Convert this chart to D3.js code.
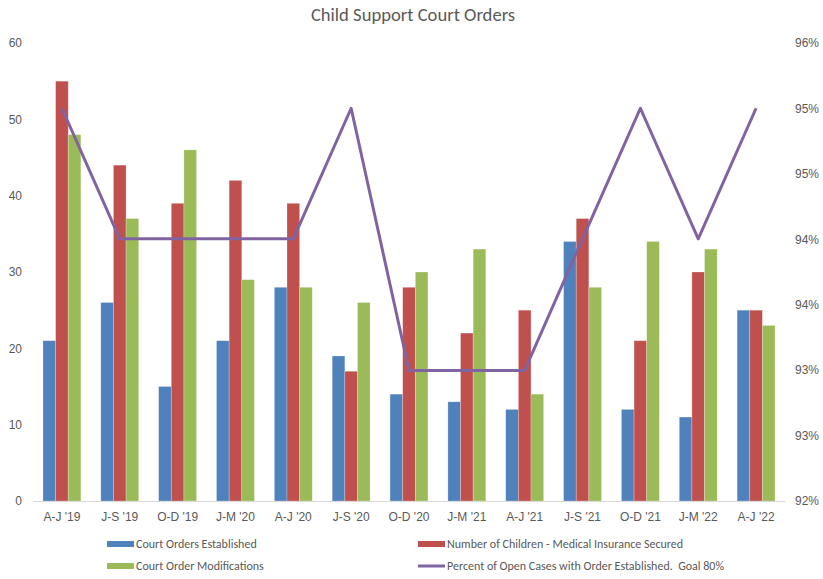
<!DOCTYPE html>
<html><head><meta charset="utf-8">
<script src="https://cdn.jsdelivr.net/npm/d3@7"></script>
<style>body{margin:0;background:#fff;} svg{display:block;font-family:Calibri,Carlito,"Liberation Sans","Open Sans",sans-serif;}</style>
</head><body>
<script>
const categories = ["A-J '19","J-S '19","O-D '19","J-M '20","A-J '20","J-S '20","O-D '20","J-M '21","A-J '21","J-S '21","O-D '21","J-M '22","A-J '22"];
const ordersEstablished = [21,26,15,21,28,19,14,13,12,34,12,11,25];
const medicalInsurance = [55,44,39,42,39,17,28,22,25,37,21,30,25];
const modifications = [48,37,46,29,28,26,30,33,14,28,34,33,23];
const percentOpen = [0.9543,0.9429,0.9429,0.9429,0.9429,0.9543,0.9314,0.9314,0.9314,0.9429,0.9543,0.9429,0.9543];
const leftTicks = [0,10,20,30,40,50,60];
const rightTicks = [0.92,0.92+0.04/7,0.92+0.08/7,0.92+0.12/7,0.92+0.16/7,0.92+0.20/7,0.92+0.24/7,0.96];
const seriesNames = ["Court Orders Established","Number of Children - Medical Insurance Secured","Court Order Modifications","Percent of Open Cases with Order Established.  Goal 80%"];
const colors = ["#4F81BD","#C0504D","#9BBB59","#8064A2"];

const W=823,H=579;
const svg=d3.select("body").append("svg").attr("width",W).attr("height",H);
const x0=33,x1=785,yTop=43,yBot=501;
const x=d3.scaleBand().domain(categories).range([x0,x1]).paddingInner(0.3448).paddingOuter(0.1724);
const xs=d3.scaleBand().domain(categories).range([x0,x1]);
const sub=d3.scaleBand().domain([0,1,2]).range([0,x.bandwidth()]);
const yL=d3.scaleLinear().domain([0,60]).range([yBot,yTop]);
const yR=d3.scaleLinear().domain([0.92,0.96]).range([yBot,yTop]);

svg.append("text").attr("x",413).attr("y",21).attr("text-anchor","middle").attr("fill","#595959").attr("font-size","18.6px").text("Child Support Court Orders");

const series=[ordersEstablished,medicalInsurance,modifications];
series.forEach((vals,si)=>{
  svg.append("g").selectAll("rect").data(vals).join("rect")
    .attr("x",(d,i)=>x(categories[i])+sub(si))
    .attr("y",d=>yL(d))
    .attr("width",sub.bandwidth())
    .attr("height",d=>yBot-yL(d))
    .attr("fill",colors[si])
    .attr("stroke","rgba(255,255,255,0.35)").attr("stroke-width",0.7);
});

// baseline
svg.append("line").attr("x1",x0).attr("x2",x1).attr("y1",yBot+0.5).attr("y2",yBot+0.5).attr("stroke","#d9d9d9").attr("stroke-width",1);

// line
const line=d3.line().x((d,i)=>xs(categories[i])+xs.bandwidth()/2).y(d=>yR(d));
svg.append("path").datum(percentOpen).attr("d",line).attr("fill","none").attr("stroke",colors[3]).attr("stroke-width",3).attr("stroke-linejoin","round");

// left axis
const gL=svg.append("g").attr("transform",`translate(${x0},0)`)
  .call(d3.axisLeft(yL).tickValues(leftTicks).tickSize(0).tickPadding(11));
gL.select(".domain").remove();
gL.selectAll("text").attr("fill","#595959").attr("font-size","12px").attr("font-family",null);

// right axis
const gR=svg.append("g").attr("transform",`translate(${x1},0)`)
  .call(d3.axisRight(yR).tickValues(rightTicks).tickSize(0).tickPadding(10).tickFormat(d3.format(".0%")));
gR.select(".domain").remove();
gR.selectAll("text").attr("fill","#595959").attr("font-size","12px").attr("font-family",null);

// x axis
const gX=svg.append("g").attr("transform",`translate(0,${yBot})`)
  .call(d3.axisBottom(xs).tickSize(0).tickPadding(11));
gX.select(".domain").remove();
gX.selectAll("text").attr("fill","#595959").attr("font-size","12px").attr("font-family",null);

// legend
const leg=[{i:0,x:107,y:544,type:"rect"},{i:1,x:418,y:544,type:"rect"},{i:2,x:107,y:566,type:"rect"},{i:3,x:418,y:566,type:"line"}];
const lg=svg.append("g");
leg.forEach(l=>{
  if(l.type==="rect") lg.append("rect").attr("x",l.x).attr("y",l.y-3).attr("width",27).attr("height",6).attr("fill",colors[l.i]);
  else lg.append("line").attr("x1",l.x).attr("x2",l.x+27).attr("y1",l.y).attr("y2",l.y).attr("stroke",colors[l.i]).attr("stroke-width",3);
  lg.append("text").attr("x",l.x+29).attr("y",l.y).attr("dy","0.35em").attr("fill","#595959").attr("font-size","12px").style("white-space","pre").text(seriesNames[l.i]);
});
</script>
</body></html>
